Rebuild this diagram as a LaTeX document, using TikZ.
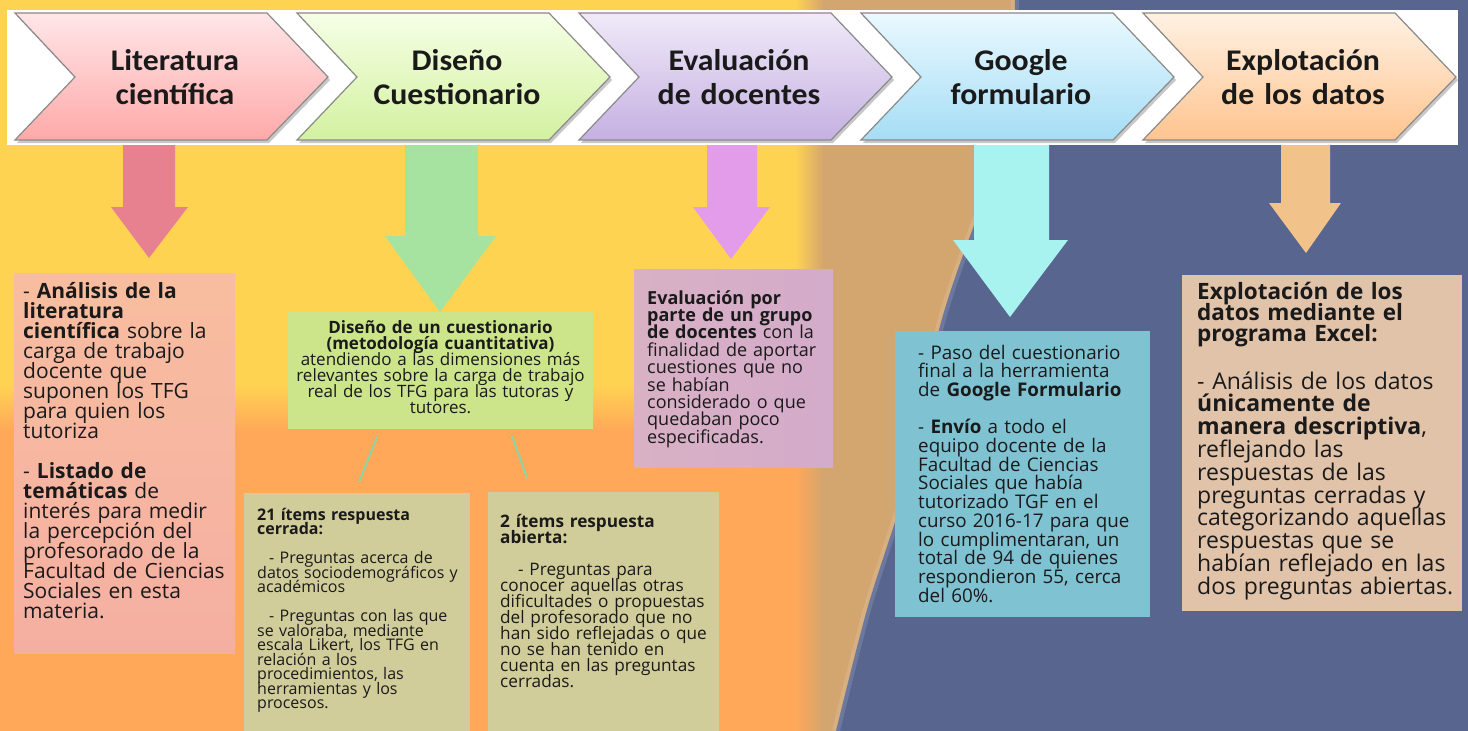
\documentclass[tikz,border=0pt]{standalone}
\usepackage{fontspec}
\setmainfont{Open Sans}
\newfontfamily\chevfont[FakeStretch=1.06]{Carlito}
\definecolor{bgyellow}{HTML}{FFD352}
\definecolor{bgorange}{HTML}{FFA859}
\definecolor{bgtan}{HTML}{D3A56F}
\definecolor{bgblue}{HTML}{58668F}
\definecolor{txt}{HTML}{1A1A1A}
\definecolor{chevborder}{HTML}{8A8A8A}
\definecolor{pkT}{HTML}{FFE6E8}\definecolor{pkB}{HTML}{FFA9A9}
\definecolor{grT}{HTML}{F6FFE6}\definecolor{grB}{HTML}{D3F1A0}
\definecolor{puT}{HTML}{F0EAF8}\definecolor{puB}{HTML}{C5B0E2}
\definecolor{blT}{HTML}{EAF9FF}\definecolor{blB}{HTML}{A5DDF5}
\definecolor{orT}{HTML}{FFF1E3}\definecolor{orB}{HTML}{FFC48F}
\definecolor{arPink}{HTML}{E8818F}
\definecolor{arGreen}{HTML}{A6E3A0}
\definecolor{arPurple}{HTML}{E29CEA}
\definecolor{arCyan}{HTML}{A8F3EF}
\definecolor{arOrange}{HTML}{F1C38A}
\definecolor{boxPinkT}{HTML}{F8BD9F}\definecolor{boxPinkB}{HTML}{F5AFA2}
\definecolor{boxGreen}{HTML}{CCE58A}
\definecolor{boxBeige}{HTML}{D1CD9B}
\definecolor{boxPurL}{HTML}{D9B1C5}\definecolor{boxPurR}{HTML}{D3ABCB}
\definecolor{boxCyan}{HTML}{7FC3D3}
\definecolor{boxTan}{HTML}{E1C3AA}
\definecolor{linkgreen}{HTML}{8CD6A4}
\tikzset{
  chevtext/.style={font=\chevfont\bfseries\fontsize{30}{34}\selectfont, text=txt, align=center, text width=260pt, anchor=base, inner sep=0pt},
  boxtext/.style={text=txt, align=left, anchor=base west, inner sep=0pt, execute at begin node={\lineskiplimit=-100pt\lineskip=0pt}},
  link/.style={draw=linkgreen, line width=2pt},
}
\newcommand\downarr[8]{\fill[#8] (#1,145) -- (#1,#5) -- (#3,#5) -- (#6,#7) -- (#4,#5) -- (#2,#5) -- (#2,145) -- cycle;}
\begin{document}
\begin{tikzpicture}[x=1pt,y=-1pt]
\useasboundingbox (0,0) rectangle (1468,731);
% background
\fill[bgyellow] (0,0) rectangle (1468,731);
\fill[bgorange] (0,430) rectangle (840,731);
\shade[top color=bgyellow,bottom color=bgorange] (0,384) rectangle (840,431);
\shade[left color=bgyellow, right color=bgtan] (795,0) rectangle (824,384);
\shade[left color=bgorange, right color=bgtan] (795,431) rectangle (824,731);
\fill[bgtan] (823,0) rectangle (1030,731);
\fill[bgblue] plot[smooth] coordinates {(1015,0) (1008,150) (978,215) (940,326) (912,466) (868,606) (836,731)} -- (1468,731) -- (1468,0) -- cycle;
\draw[white, opacity=0.12, line width=8pt] plot[smooth] coordinates {(1015,0) (1008,150) (978,215) (940,326) (912,466) (868,606) (836,731)};
% banner
\fill[white] (7,10) rectangle (1458,145);
\foreach \i/\ct/\cb/\lab in {0/pkT/pkB/{Literatura\\científica},1/grT/grB/{Diseño\\Cuestionario},2/puT/puB/{Evaluación\\de docentes},3/blT/blB/{Google\\formulario},4/orT/orB/{Explotación\\de los datos}}{
  \pgfmathsetmacro\xo{15+282*\i}
  \fill[black,opacity=0.22] (\xo+2,16) -- ++(252,0) -- ++(61,64) -- ++(-61,63) -- ++(-252,0) -- ++(60,-63) -- cycle;
  \shadedraw[top color=\ct,bottom color=\cb, draw=chevborder, line width=1.2pt] (\xo,13) -- ++(252,0) -- ++(61,64) -- ++(-61,63) -- ++(-252,0) -- ++(60,-63) -- cycle;
  \node[chevtext] (chev\i) at (\xo+160,70) {\lab};
}
% down arrows
\downarr{123}{175}{111}{188}{207}{149}{258}{arPink}
\downarr{405}{478}{385}{496}{236}{440}{312}{arGreen}
\downarr{707}{757}{693}{770}{207}{731}{259}{arPurple}
\downarr{974}{1049}{953}{1068}{240}{1010}{317}{arCyan}
\downarr{1281}{1330}{1269}{1341}{203}{1306}{253}{arOrange}
% boxes
\shade[top color=boxPinkT,bottom color=boxPinkB] (14,273) rectangle (235,653);
\fill[boxGreen] (288,312) rectangle (593,429);
\fill[boxBeige] (244,493) rectangle (470,731);
\fill[boxBeige] (488,492) rectangle (719,731);
\shade[left color=boxPurL,right color=boxPurR] (634,269) rectangle (833,467);
\fill[boxCyan] (895,331) rectangle (1150,617);
\fill[boxTan] (1182,275) rectangle (1462,611);
% links
\coordinate (la1) at (377,437); \coordinate (la2) at (359,482);
\coordinate (lb1) at (512,436); \coordinate (lb2) at (527,478);
\draw[link] (la1) -- (la2);
\draw[link] (lb1) -- (lb2);
% texts
\node[boxtext, text width=212pt, font=\fontsize{21}{20}\selectfont] (t1) at (23,298) {%
- \textbf{Análisis de la}\\
\textbf{literatura}\\
\textbf{científica} sobre la\\
carga de trabajo\\
docente que\\
suponen los TFG\\
para quien los\\
tutoriza\\[20pt]
- \textbf{Listado de}\\
\textbf{temáticas} de\\
interés para medir\\
la percepción del\\
profesorado de la\\
Facultad de Ciencias\\
Sociales en esta\\
materia.};
\node[boxtext, anchor=base, align=center, text width=305pt, font=\fontsize{17}{16}\selectfont] (t2) at (440.5,333) {%
\textbf{Diseño de un cuestionario}\\
\textbf{(metodología cuantitativa)}\\
atendiendo a las dimensiones más\\
relevantes sobre la carga de trabajo\\
real de los TFG para las tutoras y\\
tutores.};
\node[boxtext, text width=215pt, font=\fontsize{16}{14.5}\selectfont] (t3) at (257,520) {%
\textbf{21 ítems respuesta}\\
\textbf{cerrada:}\\[14.5pt]
\hspace*{12pt}- Preguntas acerca de\\
datos sociodemográficos y\\
académicos\\[14.5pt]
\hspace*{12pt}- Preguntas con las que\\
se valoraba, mediante\\
escala Likert, los TFG en\\
relación a los\\
procedimientos, las\\
herramientas y los\\
procesos.};
\node[boxtext, text width=220pt, font=\fontsize{17.2}{16}\selectfont] (t4) at (500,527) {%
\textbf{2 ítems respuesta}\\
\textbf{abierta:}\\[16pt]
\hspace*{18pt}- Preguntas para\\
conocer aquellas otras\\
dificultades o propuestas\\
del profesorado que no\\
han sido reflejadas o que\\
no se han tenido en\\
cuenta en las preguntas\\
cerradas.};
\node[boxtext, text width=190pt, font=\fontsize{18}{17.4}\selectfont] (t5) at (647,304) {%
\textbf{Evaluación por}\\
\textbf{parte de un grupo}\\
\textbf{de docentes} con la\\
finalidad de aportar\\
cuestiones que no\\
se habían\\
considerado o que\\
quedaban poco\\
especificadas.};
\node[boxtext, text width=235pt, font=\fontsize{18.8}{18.7}\selectfont] (t6) at (918,359) {%
- Paso del cuestionario\\
final a la herramienta\\
de \textbf{Google Formulario}\\[18.7pt]
- \textbf{Envío} a todo el\\
equipo docente de la\\
Facultad de Ciencias\\
Sociales que había\\
tutorizado TGF en el\\
curso 2016-17 para que\\
lo cumplimentaran, un\\
total de 94 de quienes\\
respondieron 55, cerca\\
del 60\%.};
\node[boxtext, text width=265pt, font=\bfseries\fontsize{22.5}{21}\selectfont] (t7) at (1197,299) {%
Explotación de los\\
datos mediante el\\
programa Excel:};
\node[boxtext, text width=265pt, font=\fontsize{23}{22.8}\selectfont] (t8) at (1197,389) {%
- Análisis de los datos\\
\textbf{únicamente de}\\
\textbf{manera descriptiva},\\
reflejando las\\
respuestas de las\\
preguntas cerradas y\\
categorizando aquellas\\
respuestas que se\\
habían reflejado en las\\
dos preguntas abiertas.};
\end{tikzpicture}
\end{document}
